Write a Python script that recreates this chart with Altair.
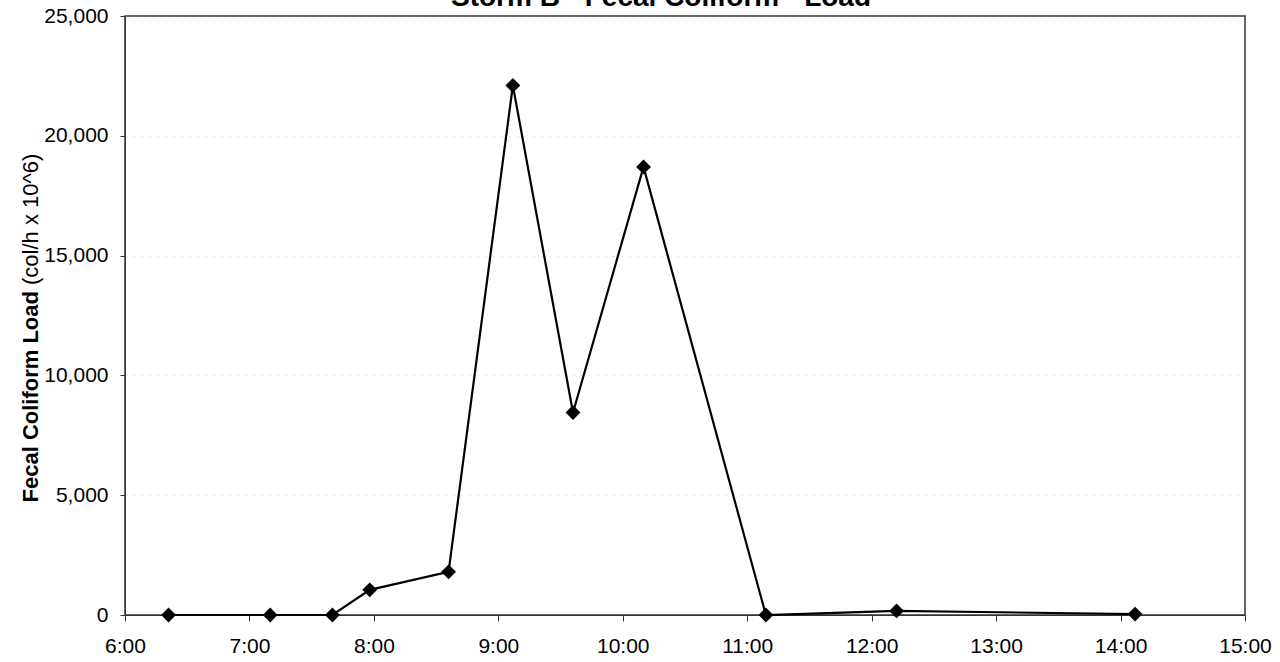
import altair as alt
import pandas as pd

# Data
times = ["6:21", "7:10", "7:40", "7:58", "8:36", "9:07", "9:36", "10:10", "11:09", "12:12", "14:07"]
loads = [0, 0, 0, 1050, 1800, 22100, 8450, 18700, 0, 170, 40]
x_ticks = [6, 7, 8, 9, 10, 11, 12, 13, 14, 15]
y_ticks = [0, 5000, 10000, 15000, 20000, 25000]

title_text = "Storm B  -  Fecal Coliform  -  Load"
ylab_bold = "Fecal Coliform Load"
ylab_regular = "(col/h x 10^6)"


def to_hours(t):
    h, m = t.split(":")
    return int(h) + int(m) / 60.0


df = pd.DataFrame({"time": times, "hours": [to_hours(t) for t in times], "load": loads})

FONT = "Liberation Sans"

x_enc = alt.X(
    "hours:Q",
    scale=alt.Scale(domain=[6, 15], nice=False, zero=False),
    axis=alt.Axis(
        values=x_ticks,
        labelExpr="datum.value + ':00'",
        title="",
        grid=False,
        tickSize=6,
        labelFontSize=21,
        labelFont=FONT,
        labelColor="black",
        domainColor="#333",
        tickColor="#333",
        labelPadding=14,
        labelFlush=False,
    ),
)
y_enc = alt.Y(
    "load:Q",
    scale=alt.Scale(domain=[0, 25000], nice=False),
    axis=alt.Axis(
        values=y_ticks,
        format=",.0f",
        title="",
        grid=True,
        gridColor="#aaa",
        gridDash=[1, 7],
        gridOpacity=0.6,
        tickSize=5,
        labelFontSize=21,
        labelFont=FONT,
        labelColor="black",
        domainColor="#333",
        tickColor="#333",
        labelPadding=12,
    ),
)

line = alt.Chart(df).mark_line(color="black", strokeWidth=2.2).encode(x=x_enc, y=y_enc)
pts = alt.Chart(df).mark_point(shape="diamond", filled=True, size=220, color="black", opacity=1).encode(
    x="hours:Q", y="load:Q"
)

title = alt.Chart(pd.DataFrame({"t": [title_text]})).mark_text(
    font=FONT, fontSize=28, fontWeight="bold", color="black", align="center", baseline="alphabetic"
).encode(text="t:N", x=alt.value(536), y=alt.value(-10))

ylab1 = alt.Chart(pd.DataFrame({"t": [ylab_bold]})).mark_text(
    font=FONT, fontSize=22, fontWeight="bold", color="black", align="right", baseline="middle", angle=270
).encode(text="t:N", x=alt.value(-94), y=alt.value(275))

ylab2 = alt.Chart(pd.DataFrame({"t": [ylab_regular]})).mark_text(
    font=FONT, fontSize=22, color="black", align="left", baseline="middle", angle=270
).encode(text="t:N", x=alt.value(-94), y=alt.value(269))

chart = (
    alt.layer(line, pts, title, ylab1, ylab2)
    .properties(
        width=1120,
        height=599,
        autosize=alt.AutoSizeParams(type="none"),
        padding={"left": 125, "top": 16, "right": 35, "bottom": 47},
        background="white",
    )
    .configure_view(stroke="#333", strokeWidth=1.5)
)

chart.save("out.html", embed_options={"renderer": "svg", "actions": False})
